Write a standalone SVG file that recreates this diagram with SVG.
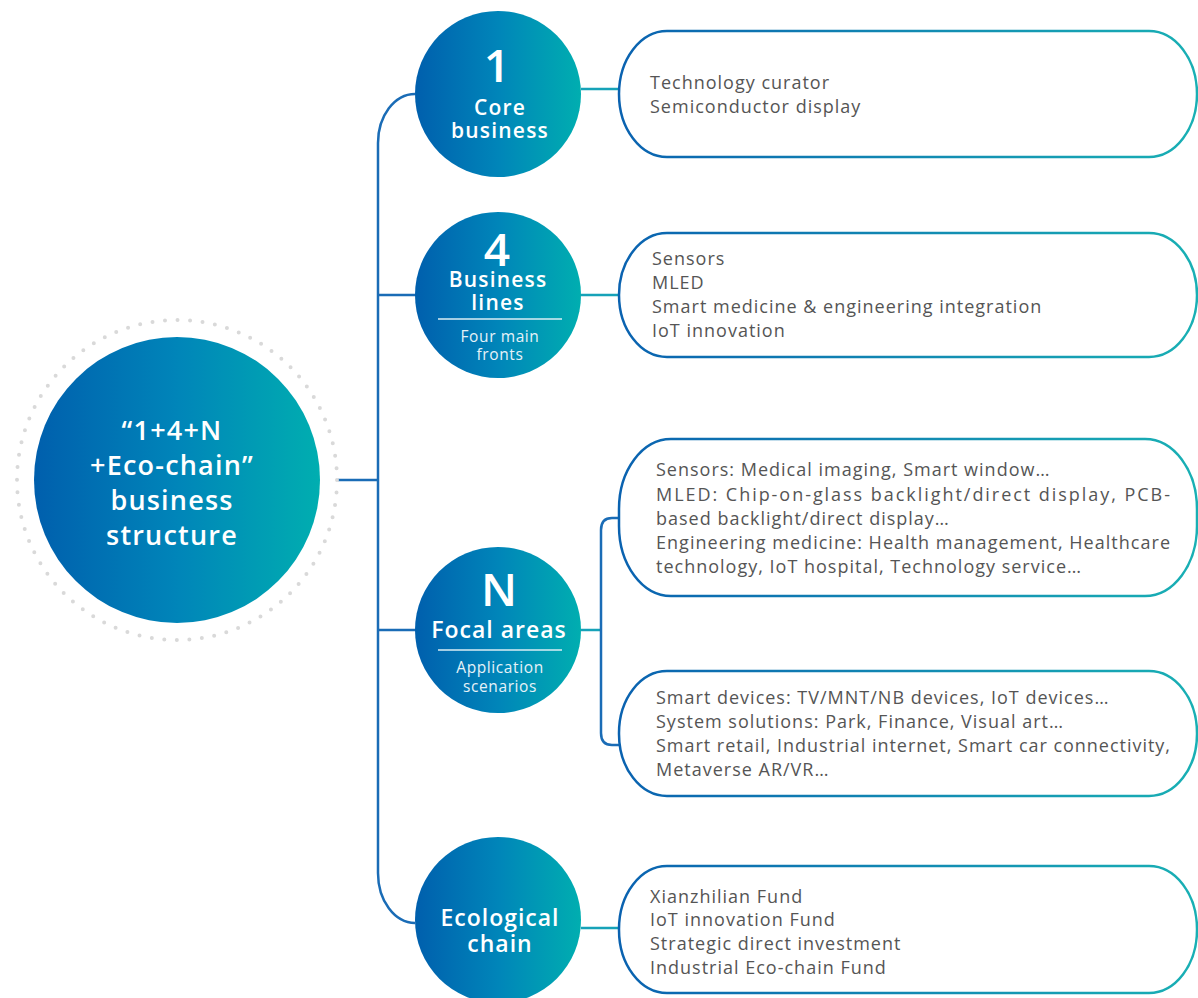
<svg xmlns="http://www.w3.org/2000/svg" width="1198" height="998" viewBox="0 0 1198 998">
<defs>
<linearGradient id="cg" x1="0" y1="0" x2="1" y2="0">
<stop offset="0" stop-color="#005fad"/>
<stop offset="0.5" stop-color="#0085b9"/>
<stop offset="1" stop-color="#00aeb0"/>
</linearGradient>
<linearGradient id="bg" x1="619" y1="0" x2="1198" y2="0" gradientUnits="userSpaceOnUse">
<stop offset="0" stop-color="#0a62b0"/>
<stop offset="1" stop-color="#19b0b4"/>
</linearGradient>
<style>
.circ{fill:url(#cg)}
.ct{font-family:"Open Sans","Liberation Sans",sans-serif;fill:#fff;text-anchor:middle;font-weight:600}
.big{font-size:46px;font-weight:600}
.mid{font-size:21px;letter-spacing:1.2px}
.lg{font-size:23px;letter-spacing:1px}
.sm{font-size:15.5px;font-weight:400;fill:#e6f2f8;letter-spacing:0.6px}
.main{font-size:27px;letter-spacing:1.2px}
.sep{stroke:#dbeef5;stroke-width:1.5}
.box{fill:#fff;stroke:url(#bg);stroke-width:2.5}
.bt{font-family:"Open Sans","Liberation Sans",sans-serif;font-size:18px;fill:#555;letter-spacing:1px}
.trunk{fill:none;stroke:#1a6cb6;stroke-width:2.5}
.teal{fill:none;stroke:#16a2b8;stroke-width:2.5}
</style>
</defs>
<g id="connectors">
<line class="trunk" x1="338" y1="480" x2="378" y2="480" stroke="#1780bd"/>
<path class="trunk" d="M415,94 A37,49 0 0 0 378,143 L378,873 A37,50 0 0 0 415,923"/>
<line class="trunk" x1="378" y1="295" x2="416" y2="295"/>
<line class="trunk" x1="378" y1="630" x2="416" y2="630"/>
<line class="teal" x1="581" y1="89" x2="620" y2="89"/>
<line class="teal" x1="581" y1="295" x2="620" y2="295"/>
<line class="teal" x1="581" y1="630" x2="601" y2="630"/>
<line class="teal" x1="581" y1="928" x2="620" y2="928"/>
<path class="trunk" d="M620,518 L612,518 Q601,518 601,530 L601,733 Q601,745 612,745 L620,745"/>
</g>
<g id="node-main">
<circle cx="177" cy="480" r="160" fill="none" stroke="#d9d9d9" stroke-width="4" stroke-linecap="round" stroke-dasharray="0 12.57"/>
<circle class="circ" cx="177" cy="480" r="143"/>
<text class="ct main" x="172" y="440">“1+4+N</text>
<text class="ct main" x="172" y="475">+Eco-chain”</text>
<text class="ct main" x="172" y="510">business</text>
<text class="ct main" x="172" y="545">structure</text>
</g>
<g id="node-core">
<circle class="circ" cx="498" cy="94" r="83"/>
<text class="ct big" x="497" y="82">1</text>
<text class="ct mid" x="500" y="115">Core</text>
<text class="ct mid" x="500" y="138">business</text>
</g>
<g id="node-lines">
<circle class="circ" cx="498" cy="295" r="83"/>
<text class="ct big" x="497" y="266">4</text>
<text class="ct mid" x="498" y="287">Business</text>
<text class="ct mid" x="498" y="310">lines</text>
<line class="sep" x1="438" y1="319" x2="562" y2="319"/>
<text class="ct sm" x="500" y="342">Four main</text>
<text class="ct sm" x="500" y="360">fronts</text>
</g>
<g id="node-focal">
<circle class="circ" cx="498" cy="630" r="83"/>
<text class="ct big" x="499" y="606">N</text>
<text class="ct lg" x="499" y="638">Focal areas</text>
<line class="sep" x1="438" y1="650" x2="562" y2="650"/>
<text class="ct sm" x="500" y="673">Application</text>
<text class="ct sm" x="500" y="692">scenarios</text>
</g>
<g id="node-eco">
<circle class="circ" cx="498" cy="920" r="83"/>
<text class="ct lg" x="500" y="926">Ecological</text>
<text class="ct lg" x="500" y="952">chain</text>
</g>
<g id="box-core">
<rect class="box" x="619" y="31" width="578" height="126" rx="48" ry="63"/>
<text class="bt" x="650" y="89">Technology curator</text>
<text class="bt" x="650" y="113">Semiconductor display</text>
</g>
<g id="box-lines">
<rect class="box" x="619" y="233" width="578" height="124" rx="48" ry="62"/>
<text class="bt" x="652" y="265">Sensors</text>
<text class="bt" x="652" y="289">MLED</text>
<text class="bt" x="652" y="313">Smart medicine &amp; engineering integration</text>
<text class="bt" x="652" y="337">IoT innovation</text>
</g>
<g id="box-focal-1">
<rect class="box" x="619" y="439" width="578" height="157" rx="52" ry="70"/>
<text class="bt" x="656" y="476">Sensors: Medical imaging, Smart window…</text>
<text class="bt" x="656" y="501" textLength="515" lengthAdjust="spacing">MLED: Chip-on-glass backlight/direct display, PCB-</text>
<text class="bt" x="656" y="525">based backlight/direct display…</text>
<text class="bt" x="656" y="549" textLength="515" lengthAdjust="spacing">Engineering medicine: Health management, Healthcare</text>
<text class="bt" x="656" y="573">technology, IoT hospital, Technology service…</text>
</g>
<g id="box-focal-2">
<rect class="box" x="619" y="671" width="578" height="125" rx="48" ry="62"/>
<text class="bt" x="656" y="704">Smart devices: TV/MNT/NB devices, IoT devices…</text>
<text class="bt" x="656" y="728">System solutions: Park, Finance, Visual art…</text>
<text class="bt" x="656" y="752" textLength="515" lengthAdjust="spacing">Smart retail, Industrial internet, Smart car connectivity,</text>
<text class="bt" x="656" y="776">Metaverse AR/VR…</text>
</g>
<g id="box-eco">
<rect class="box" x="619" y="866" width="578" height="127" rx="48" ry="63"/>
<text class="bt" x="650" y="903">Xianzhilian Fund</text>
<text class="bt" x="650" y="926">IoT innovation Fund</text>
<text class="bt" x="650" y="950">Strategic direct investment</text>
<text class="bt" x="650" y="974">Industrial Eco-chain Fund</text>
</g>
</svg>
